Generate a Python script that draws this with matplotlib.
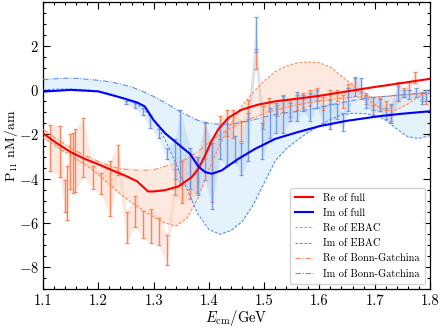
import numpy as np
import matplotlib
matplotlib.use("Agg")
import matplotlib.pyplot as plt

plt.rcParams['font.family'] = ['cmr10', 'DejaVu Serif']
plt.rcParams['mathtext.fontset'] = 'cm'
plt.rcParams['axes.formatter.use_mathtext'] = True
plt.rcParams['axes.unicode_minus'] = True

# ---- model curves on a common energy grid ----
E_model = [1.10, 1.12, 1.14, 1.16, 1.18, 1.20, 1.22, 1.24, 1.26, 1.28, 1.30, 1.32,
           1.34, 1.36, 1.38, 1.40, 1.42, 1.44, 1.46, 1.48, 1.50, 1.52, 1.54, 1.56,
           1.58, 1.60, 1.62, 1.64, 1.66, 1.68, 1.70, 1.72, 1.74, 1.76, 1.78, 1.80]
re_ebac = [-2.14, -2.48, -2.80, -3.12, -3.43, -3.82, -4.25, -4.70, -5.08, -5.42, -5.74, -6.00,
           -6.15, -5.80, -4.90, -3.60, -2.45, -1.50, -0.70, -0.10, 0.42, 0.85, 1.10, 1.24,
           1.28, 1.25, 1.05, 0.65, 0.25, -0.22, -0.65, -0.92, -0.88, -0.62, -0.30, 0.03]
re_bnga = [-1.77, -2.12, -2.45, -2.75, -3.00, -3.22, -3.42, -3.55, -3.60, -3.62, -3.60, -3.45,
           -3.30, -3.10, -2.78, -2.38, -2.00, -1.72, -1.45, -1.25, -1.05, -0.90, -0.78, -0.66,
           -0.56, -0.48, -0.42, -0.36, -0.32, -0.30, -0.30, -0.28, -0.24, -0.20, -0.17, -0.15]
im_ebac = [0.02, 0.05, 0.06, 0.05, 0.02, -0.05, -0.15, -0.32, -0.52, -0.80, -1.30, -2.20,
           -3.30, -4.45, -5.60, -6.30, -6.52, -6.35, -5.95, -5.20, -4.20, -3.20, -2.65, -2.25,
           -1.90, -1.60, -1.32, -1.12, -1.04, -1.05, -1.12, -1.35, -1.75, -2.10, -2.18, -2.05]
im_bnga = [0.48, 0.52, 0.55, 0.54, 0.50, 0.45, 0.39, 0.28, 0.15, -0.05, -0.28, -0.55,
           -0.85, -1.12, -1.36, -1.50, -1.54, -1.53, -1.45, -1.35, -1.20, -1.10, -1.02, -0.96,
           -0.88, -0.78, -0.66, -0.56, -0.46, -0.38, -0.32, -0.27, -0.22, -0.18, -0.14, -0.10]

# ---- full model ----
E_re_full = [1.100, 1.125, 1.150, 1.175, 1.200, 1.225, 1.250, 1.270, 1.290, 1.300, 1.321,
             1.345, 1.369, 1.381, 1.393, 1.405, 1.417, 1.435, 1.459, 1.489, 1.520, 1.560,
             1.600, 1.650, 1.700, 1.750, 1.800]
re_full = [-1.95, -2.40, -2.80, -3.10, -3.35, -3.62, -3.88, -4.12, -4.58, -4.58, -4.52,
           -4.35, -3.93, -3.55, -2.96, -2.29, -1.77, -1.25, -0.88, -0.65, -0.50, -0.38,
           -0.25, -0.05, 0.15, 0.33, 0.52]
E_im_full = [1.100, 1.150, 1.200, 1.245, 1.270, 1.284, 1.300, 1.321, 1.345, 1.366, 1.381,
             1.393, 1.405, 1.423, 1.453, 1.483, 1.520, 1.560, 1.601, 1.650, 1.709, 1.750, 1.800]
im_full = [-0.06, 0.02, -0.05, -0.36, -0.55, -0.73, -1.35, -1.95, -2.45, -2.88, -3.45,
           -3.70, -3.78, -3.63, -3.11, -2.66, -2.20, -1.90, -1.62, -1.38, -1.17, -1.06, -0.95]

# ---- data: Re part (energy, lower, upper) ----
E_re_data = [1.113, 1.131, 1.139, 1.143, 1.149, 1.154, 1.157, 1.173, 1.190, 1.205, 1.221,
             1.236, 1.251, 1.266, 1.281, 1.295, 1.310, 1.324, 1.339, 1.351, 1.366, 1.378,
             1.393, 1.405, 1.420, 1.432, 1.444, 1.459, 1.471, 1.485, 1.498, 1.509, 1.523,
             1.535, 1.547, 1.559, 1.571, 1.583, 1.595, 1.607, 1.619, 1.631, 1.642, 1.652,
             1.664, 1.675, 1.685, 1.697, 1.709, 1.720, 1.730, 1.742, 1.753, 1.763, 1.773,
             1.785, 1.793]
re_lo = [-3.66, -3.93, -5.52, -5.86, -4.45, -4.64, -4.60, -3.93, -4.45, -4.71, -5.71,
         -3.85, -6.93, -6.19, -6.68, -6.90, -7.00, -7.92, -4.75, -5.12, -4.90, -4.66,
         -3.11, -5.04, -2.21, -2.07, -2.14, -2.29, -1.32, 0.98, -1.77, -0.95, -1.17,
         -1.00, -1.20, -0.90, -0.80, -0.70, -0.50, -0.90, -0.60, -0.50, -0.80, -0.30,
         0.00, -0.40, -0.60, -1.10, -0.95, -0.90, -1.40, -0.50, -0.30, 0.00, 0.31,
         -0.50, -0.60]
re_hi = [-1.55, -1.62, -4.04, -3.41, -1.99, -1.92, -1.77, -1.25, -3.45, -3.73, -3.19,
         -2.47, -5.52, -4.79, -5.46, -5.37, -5.76, -6.53, -3.55, -3.18, -2.90, -3.00,
         -1.47, -2.37, -1.17, -0.88, -0.88, -1.40, -0.43, 1.88, -0.73, -0.36, -0.65,
         -0.20, -0.40, -0.20, -0.10, 0.00, 0.10, -0.30, 0.00, 0.00, -0.20, 0.30,
         0.60, 0.10, -0.10, -0.65, -0.36, -0.50, -0.65, 0.39, 0.10, 0.40, 0.83,
         -0.06, -0.10]

# ---- data: Im part ----
E_im_data = [1.250, 1.266, 1.280, 1.294, 1.309, 1.324, 1.339, 1.348, 1.366, 1.381, 1.393,
             1.406, 1.420, 1.432, 1.447, 1.459, 1.471, 1.485, 1.497, 1.510, 1.522, 1.535,
             1.547, 1.559, 1.571, 1.583, 1.595, 1.607, 1.619, 1.631, 1.642, 1.652, 1.664,
             1.675, 1.685, 1.697, 1.709, 1.720, 1.730, 1.742, 1.753, 1.763, 1.774, 1.785, 1.793]
im_lo = [-0.63, -0.80, -1.14, -1.70, -2.17, -3.13, -4.00, -4.30, -4.45, -4.75, -4.08,
         -5.37, -3.11, -3.40, -3.26, -3.85, -3.18, 1.73, -3.11, -2.14, -1.92, -1.92,
         -1.40, -1.40, -0.95, -1.40, -0.80, -1.47, -1.77, -1.30, -1.84, -0.95, -0.28,
         -0.06, -0.80, -0.90, -0.95, -1.30, -1.50, -0.50, -0.30, -0.40, -0.30, -0.60, -0.50]
im_hi = [-0.47, -0.58, -0.80, -1.10, -1.74, -2.60, -2.21, -0.88, -2.59, -3.04, -1.44,
         -2.37, -1.62, -1.30, -2.07, -2.37, -1.03, 3.32, -1.47, -0.80, -0.58, -0.28,
         -0.58, -0.06, -0.21, -0.13, 0.02, -0.73, -0.43, -0.60, -1.03, 0.09, 0.54,
         0.54, -0.21, -0.30, -0.40, -0.80, -0.60, 0.20, 0.00, 0.00, 0.10, -0.10, 0.00]

labels = ["Re of full", "Im of full", "Re of EBAC", "Im of EBAC",
          "Re of Bonn-Gatchina", "Im of Bonn-Gatchina"]

c_re_bar = "#ff7f50"
c_im_bar = "#6f98e8"
c_re_line = "#ff8a5c"
c_im_line = "#5a8ef0"

fig = plt.figure(figsize=(4.4, 3.27), dpi=100)
ax = fig.add_axes([0.098, 0.116, 0.879, 0.878])

Em = np.array(E_model)
ax.fill_between(Em, re_ebac, re_bnga, color="#fde0d2", alpha=0.7, lw=0, zorder=1)
ax.fill_between(Em, im_ebac, im_bnga, color="#d9eefa", alpha=0.7, lw=0, zorder=1)

ax.fill_between(E_re_data, re_lo, re_hi, color="#f9c2aa", alpha=0.35, lw=0, zorder=1.5)
ax.fill_between(E_im_data, im_lo, im_hi, color="#a9c7f0", alpha=0.35, lw=0, zorder=1.5)

def draw_bars(E, lo, hi, color):
    E = np.array(E); lo = np.array(lo); hi = np.array(hi)
    mid = (lo + hi) / 2
    err = (hi - lo) / 2
    ax.errorbar(E, mid, yerr=err, fmt='none', ecolor=color, elinewidth=1.0,
                capsize=1.6, capthick=0.9, alpha=0.95, zorder=2)

draw_bars(E_re_data, re_lo, re_hi, c_re_bar)
draw_bars(E_im_data, im_lo, im_hi, c_im_bar)

ax.plot(E_re_full, re_full, color="red", lw=1.5, label=labels[0], zorder=5)
ax.plot(E_im_full, im_full, color="blue", lw=1.5, label=labels[1], zorder=5)
ax.plot(Em, re_ebac, color=c_re_line, lw=0.8, ls=(0, (2.5, 1.5)), label=labels[2], zorder=3)
ax.plot(Em, im_ebac, color=c_im_line, lw=0.8, ls=(0, (2.5, 1.5)), label=labels[3], zorder=3)
ax.plot(Em, re_bnga, color=c_re_line, lw=0.8, ls=(0, (5, 1.5, 1, 1.5)), label=labels[4], zorder=3)
ax.plot(Em, im_bnga, color=c_im_line, lw=0.8, ls=(0, (5, 1.5, 1, 1.5)), label=labels[5], zorder=3)

ax.set_xlim(1.1, 1.8)
ax.set_ylim(-9, 4)
ax.set_xticks([1.1, 1.2, 1.3, 1.4, 1.5, 1.6, 1.7, 1.8])
ax.set_xticklabels(["1.1", "1.2", "1.3", "1.4", "1.5", "1.6", "1.7", "1.8"])
ax.set_yticks([-8, -6, -4, -2, 0, 2])
ax.set_xticks(np.arange(1.1, 1.8001, 0.02), minor=True)
ax.set_yticks(np.arange(-9, 4.001, 0.5), minor=True)
ax.tick_params(which='both', direction='in', top=True, right=True, labelsize=10.5, width=0.8)
ax.tick_params(which='major', length=5)
ax.tick_params(axis='x', which='major', pad=4)
ax.tick_params(axis='y', which='major', pad=3)
ax.tick_params(which='minor', length=2.5)
for s in ax.spines.values():
    s.set_linewidth(0.9)

ax.set_xlabel(r"$E_{\rm cm}/\mathrm{GeV}$", fontsize=10.5, labelpad=0)
ax.set_ylabel(r"$\mathrm{P}_{11}\ \mathrm{nM/am}$", fontsize=10, labelpad=0)
ax.yaxis.set_label_coords(-0.061, 0.5)

ax.legend(loc='lower right', fontsize=7.5, frameon=True, fancybox=True,
          framealpha=0.85, edgecolor="#cccccc", handlelength=1.8,
          borderpad=0.5, labelspacing=0.55, handletextpad=0.9,
          bbox_to_anchor=(1.0, 0.0))

fig.savefig("out.png", dpi=100)
